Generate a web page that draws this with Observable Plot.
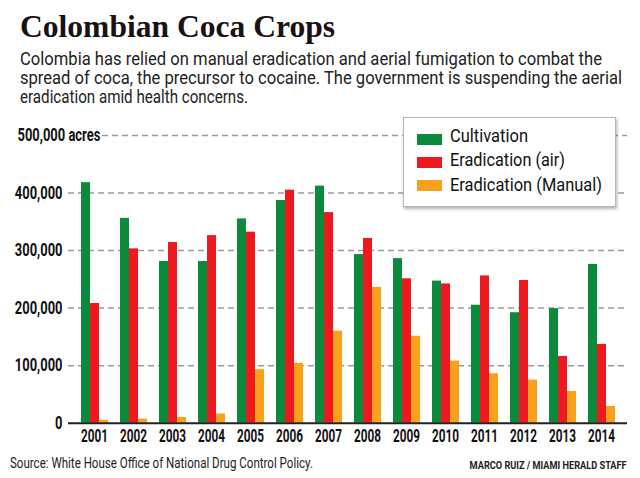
<!DOCTYPE html>
<html>
<head>
<meta charset="utf-8">
<script src="https://cdn.jsdelivr.net/npm/d3@7"></script>
<script src="https://cdn.jsdelivr.net/npm/@observablehq/plot@0.6"></script>
<style>
  html, body { margin: 0; padding: 0; background: #fff; }
  #wrap { position: relative; width: 640px; height: 478px; overflow: hidden; background: #fff; font-family: Roboto, "Noto Sans", sans-serif; }
  .fit { position: absolute; white-space: nowrap; transform-origin: 0 0; }
  #title { left: 20px; top: 8px; font-family: "Liberation Serif", "DejaVu Serif", serif; font-weight: bold; font-size: 32px; line-height: 36px; color: #1a1212; }
  .sub { left: 20px; font-size: 18px; line-height: 19px; color: #222; }
  .layer { position: absolute; left: 0; top: 110px; }
  #legend { position: absolute; left: 403px; top: 117px; width: 213px; height: 90px; background: #fff; border: 1px solid #b5b5b5; box-shadow: 1px 2px 3px rgba(0,0,0,0.3); box-sizing: border-box; }
  .sw { position: absolute; left: 13px; width: 25px; height: 11px; }
  .lt { left: 46px; font-size: 18px; line-height: 20px; color: #111; }
  #source { left: 10px; top: 455px; font-size: 14px; line-height: 16px; color: #222; }
  #credit { top: 458px; font-size: 11.5px; line-height: 14px; font-weight: bold; color: #222; transform-origin: 100% 0; right: 13px; }
</style>
</head>
<body>
<div id="wrap">
  <div id="title" class="fit" data-w="315">Colombian Coca Crops</div>
  <div class="fit sub" style="top:49px" data-w="582">Colombia has relied on manual eradication and aerial fumigation to combat the</div>
  <div class="fit sub" style="top:68px" data-w="602">spread of coca, the precursor to cocaine. The government is suspending the aerial</div>
  <div class="fit sub" style="top:87px" data-w="228">eradication amid health concerns.</div>
  <div id="back" class="layer"></div>
  <div id="bars" class="layer"></div>
  <div id="front" class="layer"></div>
  <div id="legend"></div>
  <div id="source" class="fit" data-w="303">Source: White House Office of National Drug Control Policy.</div>
  <div id="credit" class="fit" data-w="157">MARCO RUIZ / MIAMI HERALD STAFF</div>
</div>
<script>
const years = ["2001","2002","2003","2004","2005","2006","2007","2008","2009","2010","2011","2012","2013","2014"];
const seriesNames = ["Cultivation", "Eradication (air)", "Eradication (Manual)"];
const cultivation = [418000, 356000, 281000, 281000, 355000, 387000, 412000, 293000, 286000, 247000, 205000, 192000, 199000, 276000];
const eradicationAir = [208000, 303000, 314000, 326000, 332000, 405000, 366000, 321000, 251000, 242000, 256000, 248000, 116000, 137000];
const eradicationManual = [5000, 7000, 10000, 16000, 93000, 104000, 160000, 236000, 151000, 108000, 86000, 75000, 55000, 29000];
const seriesColors = ["#0b8a3c", "#ec1a1f", "#f9a11d"];
const yTicks = [0, 100000, 200000, 300000, 400000];
const topTick = 500000;

const data = [];
years.forEach((y, i) => {
  data.push({year: y, series: seriesNames[0], value: cultivation[i]});
  data.push({year: y, series: seriesNames[1], value: eradicationAir[i]});
  data.push({year: y, series: seriesNames[2], value: eradicationManual[i]});
});

const fmt = d3.format(",");
const base = {
  width: 640,
  height: 345,
  marginLeft: 68,
  marginRight: 13,
  marginTop: 25,
  marginBottom: 32.3,
  style: {fontFamily: "Roboto, sans-serif", background: "transparent", overflow: "visible"},
  y: {domain: [0, 500000], axis: null}
};

// squeeze text horizontally around its anchor (condensed look)
function squeeze(svg, s) {
  svg.querySelectorAll("text").forEach(t => {
    let tr = t.getAttribute("transform") || "";
    const xa = t.getAttribute("x");
    if (xa !== null && isFinite(+xa)) {
      t.removeAttribute("x");
      tr += ` translate(${+xa},0)`;
    }
    t.setAttribute("transform", `${tr} scale(${s},1)`);
  });
}

// background: dashed grid + y labels
const back = Plot.plot({
  ...base,
  x: {domain: [0, 1], axis: null},
  marks: [
    Plot.ruleY(yTicks.filter(d => d > 0), {stroke: "#9a9a9a", strokeWidth: 1.5, strokeDasharray: "6,4"}),
    Plot.ruleY([topTick], {stroke: "#9a9a9a", strokeWidth: 1.5, strokeDasharray: "6,4", insetLeft: 34}),
    Plot.axisY(yTicks, {tickSize: 0, tickPadding: 6, tickFormat: fmt, fontSize: 17.5, fontWeight: "bold", fill: "#111", label: null}),
    Plot.axisY([topTick], {tickSize: 0, tickPadding: 6, tickFormat: d => fmt(d) + " acres", textAnchor: "start", dx: -45, fontSize: 17.5, fontWeight: "bold", fill: "#111", label: null})
  ]
});
squeeze(back, 0.74);
document.getElementById("back").appendChild(back);

// grouped bars
const bars = Plot.plot({
  ...base,
  fx: {domain: years, paddingInner: 0.28, paddingOuter: 0.2, label: null},
  x: {domain: seriesNames, padding: 0, axis: null},
  color: {domain: seriesNames, range: seriesColors},
  marks: [
    Plot.barY(data, {fx: "year", x: "series", y: "value", fill: "series"}),
    Plot.axisFx({anchor: "bottom", tickSize: 0, tickPadding: 5, fontSize: 19, fontWeight: "bold", fill: "#111", label: null})
  ]
});
squeeze(bars, 0.62);
document.getElementById("bars").appendChild(bars);

// baseline on top
const front = Plot.plot({
  ...base,
  x: {domain: [0, 1], axis: null},
  marks: [Plot.ruleY([0], {stroke: "#222", strokeWidth: 2})]
});
document.getElementById("front").appendChild(front);

// legend
const legend = document.getElementById("legend");
seriesNames.forEach((name, i) => {
  const sw = document.createElement("div");
  sw.className = "sw";
  sw.style.top = (15.5 + i * 23.3) + "px";
  sw.style.background = seriesColors[i];
  legend.appendChild(sw);
  const t = document.createElement("div");
  t.className = "fit lt";
  t.style.top = (7.5 + i * 24.5) + "px";
  t.textContent = name;
  legend.appendChild(t);
});
const legendTextWidths = [78, 115, 152];
legend.querySelectorAll(".lt").forEach((el, i) => el.setAttribute("data-w", legendTextWidths[i]));

// fit text widths
document.querySelectorAll(".fit[data-w]").forEach(el => {
  const w = el.getBoundingClientRect().width;
  const target = +el.getAttribute("data-w");
  if (w > 0) el.style.transform = `scaleX(${target / w})`;
});
</script>
</body>
</html>
